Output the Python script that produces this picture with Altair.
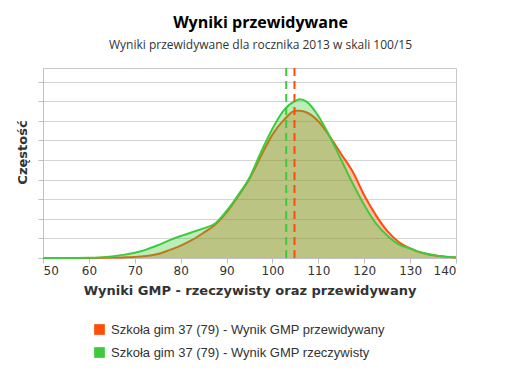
import altair as alt
import pandas as pd

x_vals = [50, 55, 60, 62.5, 65, 67.5, 70, 72.5, 75, 77.5, 80, 82.5, 85, 87.5,
          90, 92.5, 95, 97.5, 100, 102.5, 105, 106, 107.5, 110, 112.5, 115,
          117.5, 120, 122.5, 125, 127.5, 130, 132.5, 135, 137.5, 140]
pred_vals = [0, 0, 0.0, 0.01, 0.02, 0.03, 0.05, 0.1, 0.2, 0.4, 0.63, 0.92, 1.29, 1.7,
             2.33, 3.15, 4.05, 5.2, 6.3, 7.05, 7.52, 7.52, 7.43, 6.98, 6.2, 5.3,
             4.4, 3.2, 2.2, 1.38, 0.82, 0.49, 0.26, 0.14, 0.07, 0.03]
real_vals = [0, 0, 0.01, 0.03, 0.08, 0.16, 0.27, 0.43, 0.65, 0.9, 1.12, 1.32, 1.51, 1.76,
             2.4, 3.2, 4.1, 5.4, 6.6, 7.55, 8.02, 8.1, 7.97, 7.25, 6.2, 5.0,
             3.8, 2.7, 1.78, 1.15, 0.7, 0.49, 0.28, 0.16, 0.08, 0.04]
series_names = ["Szkoła gim 37 (79) - Wynik GMP przewidywany",
                "Szkoła gim 37 (79) - Wynik GMP rzeczywisty"]
colors = ["#FF4E0A", "#3DCB3D"]
mean_vals = [104.8, 103.0]
x_ticks = [50, 60, 70, 80, 90, 100, 110, 120, 130, 140]
y_ticks = [0, 1, 2, 3, 4, 5, 6, 7, 8, 9]

n = len(x_vals)
df = pd.DataFrame({
    "x": x_vals + x_vals,
    "y": pred_vals + real_vals,
    "series": [series_names[0]] * n + [series_names[1]] * n,
})
means_df = pd.DataFrame({"x": mean_vals, "series": series_names})

xenc = alt.X("x:Q", scale=alt.Scale(domain=[50, 140], nice=False, zero=False),
             axis=alt.Axis(values=x_ticks, grid=False,
                           title="Wyniki GMP - rzeczywisty oraz przewidywany",
                           labelFont="DejaVu Sans", labelFontSize=12, labelColor="#333",
                           labelPadding=2, tickSize=5, tickColor="#c0c0c0",
                           domainColor="#c0c0c0",
                           titleFont="DejaVu Sans", titleFontSize=13, titleFontWeight="bold",
                           titleColor="#333", titlePadding=8))
yenc = alt.Y("y:Q", scale=alt.Scale(domain=[0, 9.7], nice=False),
             axis=alt.Axis(values=y_ticks, labels=False, grid=True, gridColor="#d4d4d4",
                           tickSize=5, tickColor="#c0c0c0", domainColor="#c0c0c0",
                           title="Częstość", titleFont="DejaVu Sans", titleFontSize=13,
                           titleFontWeight="bold", titleColor="#333", titlePadding=8,
                           titleY=84))
color_scale = alt.Scale(domain=series_names, range=colors)

legend = alt.Legend(title=None, orient="none", legendX=50, legendY=255,
                    symbolType="square", symbolSize=115, symbolOpacity=1,
                    symbolStrokeWidth=0, labelFont="Liberation Sans", labelFontSize=13,
                    labelColor="#333", rowPadding=9, labelOffset=5, padding=0,
                    labelLimit=400, direction="vertical")

layers = []
for i, name in enumerate(series_names):
    base = alt.Chart(df).transform_filter(alt.FieldEqualPredicate(field="series", equal=name))
    layers.append(base.mark_area(opacity=0.35, interpolate="monotone").encode(
        x=xenc, y=yenc,
        fill=alt.Fill("series:N", scale=color_scale, legend=legend)))
    layers.append(base.mark_line(strokeWidth=2, interpolate="monotone", color=colors[i]).encode(
        x=xenc, y=yenc))

rules = alt.Chart(means_df).mark_rule(strokeWidth=2, strokeDash=[8, 5]).encode(
    x=alt.X("x:Q"),
    stroke=alt.Stroke("series:N", scale=color_scale, legend=None))
layers.append(rules)

chart = alt.layer(*layers).properties(
    width=413, height=190,
    autosize=alt.AutoSizeParams(type="none"),
    padding={"left": 35, "top": 60, "right": 50, "bottom": 112},
    title=alt.TitleParams(text="Wyniki przewidywane",
                          subtitle="Wyniki przewidywane dla rocznika 2013 w skali 100/15",
                          font="Open Sans", fontSize=16, fontWeight="bold", color="#000",
                          subtitleFont="Open Sans", subtitleFontSize=12, subtitleColor="#333",
                          anchor="middle", offset=16, subtitlePadding=9, dx=11),
).configure_view(stroke="#c8c8c8")

chart.save("out.html", embed_options={"renderer": "svg", "actions": False})
